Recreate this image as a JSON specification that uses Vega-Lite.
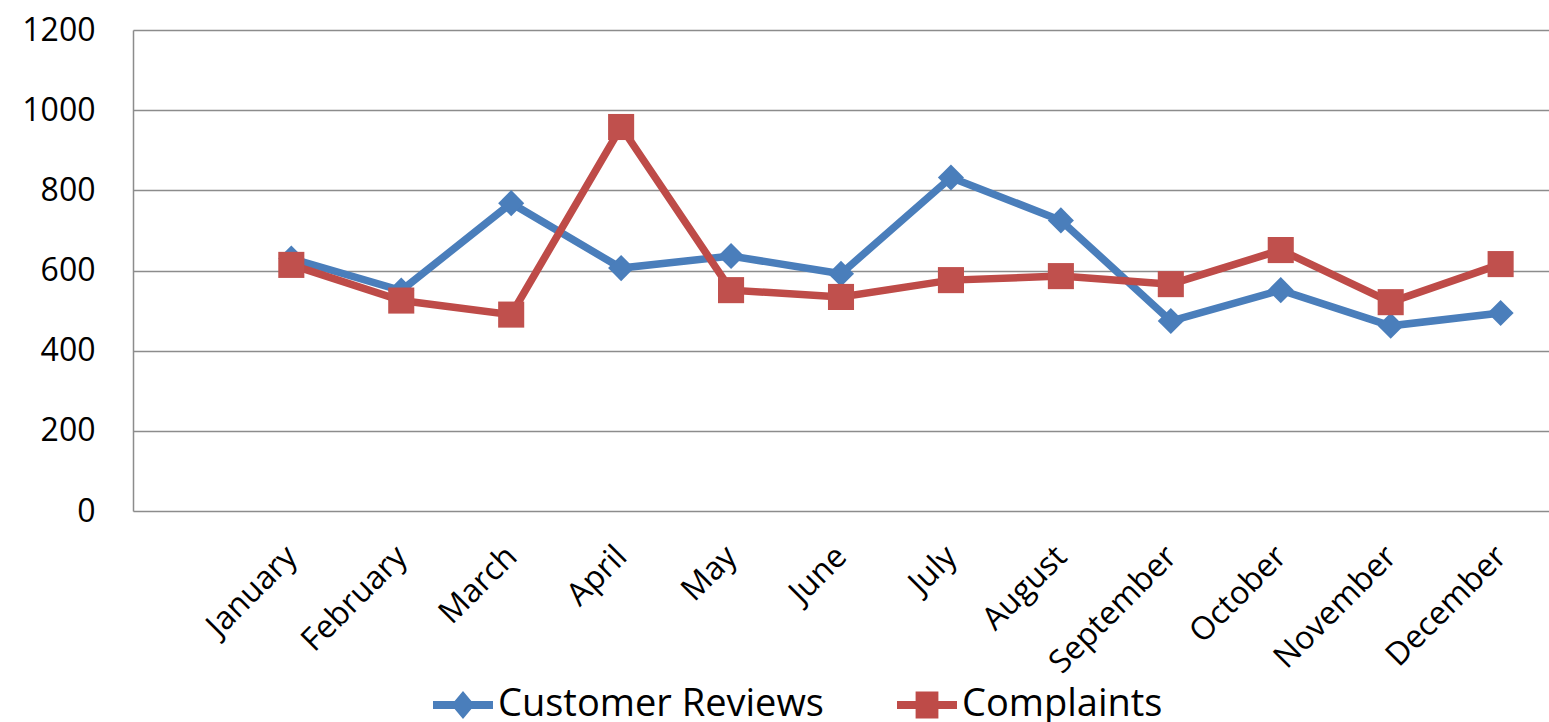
{
  "$schema": "https://vega.github.io/schema/vega-lite/v6.json",
  "width": 1416,
  "height": 481,
  "autosize": {"type": "none"},
  "padding": {"left": 133, "top": 30, "right": 0, "bottom": 211},
  "background": "white",
  "config": {
    "view": {"stroke": null},
    "font": "Open Sans",
    "axis": {"labelFont": "Open Sans", "labelColor": "#000000", "labelFontSize": 32, "ticks": false, "title": null}
  },
  "data": {
    "values": [
      {"month": "January", "series": "Customer Reviews", "value": 630},
      {"month": "February", "series": "Customer Reviews", "value": 550},
      {"month": "March", "series": "Customer Reviews", "value": 768},
      {"month": "April", "series": "Customer Reviews", "value": 606},
      {"month": "May", "series": "Customer Reviews", "value": 636},
      {"month": "June", "series": "Customer Reviews", "value": 592},
      {"month": "July", "series": "Customer Reviews", "value": 832},
      {"month": "August", "series": "Customer Reviews", "value": 725},
      {"month": "September", "series": "Customer Reviews", "value": 474},
      {"month": "October", "series": "Customer Reviews", "value": 551},
      {"month": "November", "series": "Customer Reviews", "value": 462},
      {"month": "December", "series": "Customer Reviews", "value": 494},
      {"month": "January", "series": "Complaints", "value": 614},
      {"month": "February", "series": "Complaints", "value": 525},
      {"month": "March", "series": "Complaints", "value": 490},
      {"month": "April", "series": "Complaints", "value": 958},
      {"month": "May", "series": "Complaints", "value": 551},
      {"month": "June", "series": "Complaints", "value": 534},
      {"month": "July", "series": "Complaints", "value": 576},
      {"month": "August", "series": "Complaints", "value": 586},
      {"month": "September", "series": "Complaints", "value": 566},
      {"month": "October", "series": "Complaints", "value": 651},
      {"month": "November", "series": "Complaints", "value": 521},
      {"month": "December", "series": "Complaints", "value": 616}
    ]
  },
  "encoding": {
    "x": {
      "field": "month",
      "type": "nominal",
      "scale": {"type": "point", "domain": [" ", "January","February","March","April","May","June","July","August","September","October","November","December"], "padding": 0.44},
      "axis": {"domain": false, "grid": false, "labelAngle": -45, "labelAlign": "right", "labelBaseline": "middle", "labelPadding": 40, "labelLimit": 400}
    },
    "y": {
      "field": "value",
      "type": "quantitative",
      "scale": {"domain": [0, 1200], "nice": false},
      "axis": {"values": [0, 200, 400, 600, 800, 1000, 1200], "format": "d", "grid": true, "gridColor": "#8c8c8c", "gridWidth": 1.5, "domain": true, "domainColor": "#8c8c8c", "domainWidth": 1.5, "labelPadding": 38}
    }
  },
  "layer": [
    {
      "mark": {"type": "line", "strokeWidth": 7.5},
      "encoding": {
        "color": {"field": "series", "type": "nominal", "scale": {"domain": ["Customer Reviews", "Complaints"], "range": ["#4A7EBB", "#BE4B48"]}, "legend": null}
      }
    },
    {
      "mark": {"type": "point", "filled": true, "opacity": 1, "size": 680},
      "encoding": {
        "color": {"field": "series", "type": "nominal", "scale": {"domain": ["Customer Reviews", "Complaints"], "range": ["#4A7EBB", "#C0504D"]}, "legend": null},
        "shape": {"field": "series", "type": "nominal", "scale": {"domain": ["Customer Reviews", "Complaints"], "range": ["diamond", "square"]}, "legend": null}
      }
    },
    {
      "transform": [{"filter": "datum.value < 0"}],
      "mark": {"type": "point", "filled": true, "opacity": 1, "size": 3600},
      "encoding": {
        "color": {"field": "series", "type": "nominal", "scale": {"domain": ["Customer Reviews", "Complaints"], "range": ["#4A7EBB", "#BE4B48"]},
          "legend": {"title": null, "orient": "none", "direction": "horizontal", "legendX": 300, "legendY": 645, "padding": 0, "labelFont": "Open Sans", "labelFontSize": 38, "labelColor": "#000000", "labelLimit": 1000, "labelOffset": 5, "columnPadding": 73, "symbolSize": 3600, "symbolStrokeWidth": 0, "symbolOpacity": 1}},
        "shape": {"field": "series", "type": "nominal", "scale": {"domain": ["Customer Reviews", "Complaints"], "range": ["M-1,-0.13H1V0.13H-1Z M0,-0.47L0.39,0L0,0.47L-0.39,0Z", "M-1,-0.13H1V0.13H-1Z M-0.38,-0.45H0.38V0.45H-0.38Z"]},
          "legend": {"title": null, "orient": "none", "direction": "horizontal", "legendX": 300, "legendY": 645, "padding": 0, "labelFont": "Open Sans", "labelFontSize": 38, "labelColor": "#000000", "labelLimit": 1000, "labelOffset": 5, "columnPadding": 73, "symbolSize": 3600, "symbolStrokeWidth": 0, "symbolOpacity": 1}}
      }
    }
  ],
  "resolve": {"scale": {"color": "independent", "shape": "independent"}}
}
